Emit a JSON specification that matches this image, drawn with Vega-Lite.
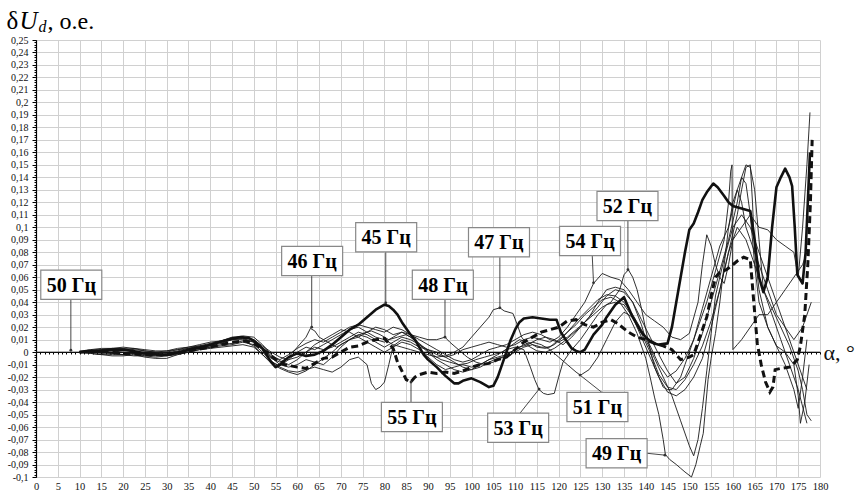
{
  "$schema": "https://vega.github.io/schema/vega-lite/v6.json",
  "width": 784,
  "height": 437,
  "autosize": {"type": "none"},
  "padding": {"left": 36, "top": 40, "right": 39, "bottom": 18},
  "background": "white",
  "config": {
    "view": {"stroke": null},
    "font": "Liberation Serif",
    "axis": {"labelFont": "Liberation Serif", "titleFont": "Liberation Serif"},
    "text": {"font": "Liberation Serif"}
  },
  "resolve": {"axis": {"x": "independent", "y": "independent"}},
  "datasets": {
    "curves": [
      {"s":45,"a":10,"u":0},{"s":45,"a":12,"u":0.001},{"s":45,"a":15,"u":0.001},{"s":45,"a":18,"u":0.002},{"s":45,"a":20,"u":0.002},{"s":45,"a":22,"u":0.001},{"s":45,"a":25,"u":-0.001},{"s":45,"a":28,"u":-0.002},{"s":45,"a":30,"u":-0.002},{"s":45,"a":33,"u":0},{"s":45,"a":35,"u":0.002},{"s":45,"a":38,"u":0.004},{"s":45,"a":40,"u":0.006},{"s":45,"a":43,"u":0.009},{"s":45,"a":45,"u":0.011},{"s":45,"a":47,"u":0.012},{"s":45,"a":49,"u":0.011},{"s":45,"a":50,"u":0.009},{"s":45,"a":52,"u":0.003},{"s":45,"a":54,"u":-0.008},{"s":45,"a":55,"u":-0.012},{"s":45,"a":56,"u":-0.01},{"s":45,"a":58,"u":-0.004},{"s":45,"a":60,"u":-0.001},{"s":45,"a":62,"u":-0.003},{"s":45,"a":64,"u":-0.002},{"s":45,"a":66,"u":0.001},{"s":45,"a":68,"u":0.006},{"s":45,"a":70,"u":0.012},{"s":45,"a":72,"u":0.018},{"s":45,"a":74,"u":0.022},{"s":45,"a":76,"u":0.028},{"s":45,"a":78,"u":0.034},{"s":45,"a":80,"u":0.038},{"s":45,"a":81,"u":0.037},{"s":45,"a":82,"u":0.034},{"s":45,"a":83,"u":0.03},{"s":45,"a":84,"u":0.024},{"s":45,"a":85,"u":0.019},{"s":45,"a":86,"u":0.014},{"s":45,"a":87,"u":0.01},{"s":45,"a":88,"u":0.004},{"s":45,"a":89,"u":-0.002},{"s":45,"a":90,"u":-0.006},{"s":45,"a":92,"u":-0.012},{"s":45,"a":94,"u":-0.019},{"s":45,"a":96,"u":-0.025},{"s":45,"a":97,"u":-0.025},{"s":45,"a":98,"u":-0.023},{"s":45,"a":100,"u":-0.021},{"s":45,"a":102,"u":-0.024},{"s":45,"a":104,"u":-0.028},{"s":45,"a":105,"u":-0.027},{"s":45,"a":106,"u":-0.02},{"s":45,"a":107,"u":-0.01},{"s":45,"a":108,"u":0},{"s":45,"a":109,"u":0.01},{"s":45,"a":110,"u":0.018},{"s":45,"a":111,"u":0.024},{"s":45,"a":112,"u":0.027},{"s":45,"a":114,"u":0.028},{"s":45,"a":116,"u":0.027},{"s":45,"a":118,"u":0.026},{"s":45,"a":119.5,"u":0.026},{"s":45,"a":120.5,"u":0.016},{"s":45,"a":122,"u":0.008},{"s":45,"a":123,"u":0.003},{"s":45,"a":124,"u":0.001},{"s":45,"a":125,"u":0},{"s":45,"a":126,"u":0.002},{"s":45,"a":127,"u":0.008},{"s":45,"a":128,"u":0.014},{"s":45,"a":129,"u":0.018},{"s":45,"a":130,"u":0.022},{"s":45,"a":131,"u":0.028},{"s":45,"a":132,"u":0.033},{"s":45,"a":133,"u":0.038},{"s":45,"a":135,"u":0.044},{"s":45,"a":136,"u":0.036},{"s":45,"a":137,"u":0.028},{"s":45,"a":138,"u":0.022},{"s":45,"a":139,"u":0.016},{"s":45,"a":140,"u":0.012},{"s":45,"a":141,"u":0.009},{"s":45,"a":142,"u":0.007},{"s":45,"a":143,"u":0.006},{"s":45,"a":145,"u":0.007},{"s":45,"a":146,"u":0.02},{"s":45,"a":147,"u":0.04},{"s":45,"a":148,"u":0.06},{"s":45,"a":149,"u":0.08},{"s":45,"a":150,"u":0.098},{"s":45,"a":151,"u":0.103},{"s":45,"a":152,"u":0.112},{"s":45,"a":153,"u":0.122},{"s":45,"a":154,"u":0.128},{"s":45,"a":155.5,"u":0.135},{"s":45,"a":156.5,"u":0.132},{"s":45,"a":158,"u":0.125},{"s":45,"a":159,"u":0.12},{"s":45,"a":160,"u":0.117},{"s":45,"a":162,"u":0.115},{"s":45,"a":164,"u":0.113},{"s":45,"a":165,"u":0.09},{"s":45,"a":166,"u":0.06},{"s":45,"a":167,"u":0.048},{"s":45,"a":168,"u":0.06},{"s":45,"a":169,"u":0.1},{"s":45,"a":170,"u":0.132},{"s":45,"a":171,"u":0.14},{"s":45,"a":172,"u":0.147},{"s":45,"a":173,"u":0.14},{"s":45,"a":173.6,"u":0.133},{"s":45,"a":174.2,"u":0.1},{"s":45,"a":174.8,"u":0.062},{"s":45,"a":176,"u":0.055},{"s":45,"a":176.7,"u":0.08},{"s":45,"a":177.2,"u":0.12},{"s":45,"a":177.7,"u":0.16},

      {"s":55,"a":10,"u":0},{"s":55,"a":15,"u":0.001},{"s":55,"a":20,"u":-0.001},{"s":55,"a":25,"u":-0.002},{"s":55,"a":30,"u":-0.002},{"s":55,"a":35,"u":0.001},{"s":55,"a":40,"u":0.004},{"s":55,"a":45,"u":0.008},{"s":55,"a":48,"u":0.009},{"s":55,"a":50,"u":0.007},{"s":55,"a":53,"u":0},{"s":55,"a":55,"u":-0.006},{"s":55,"a":57,"u":-0.01},{"s":55,"a":60,"u":-0.012},{"s":55,"a":62,"u":-0.013},{"s":55,"a":64,"u":-0.009},{"s":55,"a":66,"u":-0.005},{"s":55,"a":68,"u":-0.004},{"s":55,"a":70,"u":0},{"s":55,"a":72,"u":0.004},{"s":55,"a":74,"u":0.005},{"s":55,"a":76,"u":0.008},{"s":55,"a":78,"u":0.01},{"s":55,"a":80,"u":0.011},{"s":55,"a":82,"u":0.003},{"s":55,"a":83,"u":-0.008},{"s":55,"a":84,"u":-0.015},{"s":55,"a":85,"u":-0.022},{"s":55,"a":86,"u":-0.024},{"s":55,"a":87,"u":-0.02},{"s":55,"a":88,"u":-0.018},{"s":55,"a":90,"u":-0.016},{"s":55,"a":92,"u":-0.017},{"s":55,"a":94,"u":-0.016},{"s":55,"a":96,"u":-0.017},{"s":55,"a":98,"u":-0.015},{"s":55,"a":100,"u":-0.012},{"s":55,"a":102,"u":-0.01},{"s":55,"a":104,"u":-0.009},{"s":55,"a":106,"u":-0.006},{"s":55,"a":108,"u":-0.004},{"s":55,"a":110,"u":0.002},{"s":55,"a":112,"u":0.008},{"s":55,"a":114,"u":0.012},{"s":55,"a":116,"u":0.016},{"s":55,"a":118,"u":0.018},{"s":55,"a":120,"u":0.02},{"s":55,"a":122,"u":0.025},{"s":55,"a":124,"u":0.026},{"s":55,"a":126,"u":0.022},{"s":55,"a":128,"u":0.02},{"s":55,"a":130,"u":0.024},{"s":55,"a":132,"u":0.026},{"s":55,"a":133.5,"u":0.023},{"s":55,"a":136,"u":0.016},{"s":55,"a":138,"u":0.012},{"s":55,"a":140,"u":0.01},{"s":55,"a":142,"u":0.007},{"s":55,"a":144,"u":0.005},{"s":55,"a":146,"u":0.002},{"s":55,"a":148,"u":-0.006},{"s":55,"a":150,"u":-0.004},{"s":55,"a":151,"u":-0.002},{"s":55,"a":152,"u":0.008},{"s":55,"a":153,"u":0.018},{"s":55,"a":154,"u":0.028},{"s":55,"a":155,"u":0.045},{"s":55,"a":156,"u":0.06},{"s":55,"a":157,"u":0.064},{"s":55,"a":158.5,"u":0.066},{"s":55,"a":160,"u":0.07},{"s":55,"a":161,"u":0.073},{"s":55,"a":162.5,"u":0.076},{"s":55,"a":164,"u":0.074},{"s":55,"a":164.8,"u":0.04},{"s":55,"a":165.6,"u":0.007},{"s":55,"a":166.5,"u":-0.01},{"s":55,"a":167.5,"u":-0.024},{"s":55,"a":168.5,"u":-0.032},{"s":55,"a":169.2,"u":-0.028},{"s":55,"a":169.7,"u":-0.014},{"s":55,"a":171,"u":-0.013},{"s":55,"a":173,"u":-0.012},{"s":55,"a":174,"u":-0.009},{"s":55,"a":174.8,"u":-0.006},{"s":55,"a":175.5,"u":0.005},{"s":55,"a":176.5,"u":0.03},{"s":55,"a":177.2,"u":0.07},{"s":55,"a":177.8,"u":0.12},{"s":55,"a":178.2,"u":0.17},

      {"s":46,"a":10,"u":0},{"s":46,"a":12.5,"u":0.001},{"s":46,"a":15,"u":0.002},{"s":46,"a":17.5,"u":0.003},{"s":46,"a":20,"u":0.002},{"s":46,"a":22.5,"u":0.003},{"s":46,"a":25,"u":0.001},{"s":46,"a":27.5,"u":0},{"s":46,"a":30,"u":-0.001},{"s":46,"a":32.5,"u":0.001},{"s":46,"a":35,"u":0.003},{"s":46,"a":37.5,"u":0.004},{"s":46,"a":40,"u":0.006},{"s":46,"a":42.5,"u":0.008},{"s":46,"a":45,"u":0.01},{"s":46,"a":47.5,"u":0.011},{"s":46,"a":50,"u":0.008},{"s":46,"a":52,"u":0.002},{"s":46,"a":54,"u":-0.005},{"s":46,"a":56,"u":-0.008},{"s":46,"a":58,"u":-0.004},{"s":46,"a":60,"u":0.004},{"s":46,"a":62,"u":0.012},{"s":46,"a":63,"u":0.019},{"s":46,"a":64,"u":0.017},{"s":46,"a":65,"u":0.012},{"s":46,"a":67,"u":0.008},{"s":46,"a":69,"u":0.004},{"s":46,"a":71,"u":0.008},{"s":46,"a":73,"u":0.012},{"s":46,"a":75,"u":0.015},{"s":46,"a":77,"u":0.017},{"s":46,"a":79,"u":0.014},{"s":46,"a":81,"u":0.01},{"s":46,"a":83,"u":0.012},{"s":46,"a":85,"u":0.014},{"s":46,"a":87,"u":0.01},{"s":46,"a":89,"u":0.004},{"s":46,"a":91,"u":-0.002},{"s":46,"a":93,"u":-0.006},{"s":46,"a":95,"u":-0.008},{"s":46,"a":97,"u":-0.01},{"s":46,"a":99,"u":-0.009},{"s":46,"a":101,"u":-0.006},{"s":46,"a":103,"u":-0.004},{"s":46,"a":105,"u":-0.002},{"s":46,"a":107,"u":0},{"s":46,"a":109,"u":0.005},{"s":46,"a":111,"u":0.01},{"s":46,"a":113,"u":0.008},{"s":46,"a":115,"u":0.004},{"s":46,"a":117,"u":0.003},{"s":46,"a":119,"u":0.006},{"s":46,"a":121,"u":0.012},{"s":46,"a":123,"u":0.02},{"s":46,"a":125,"u":0.028},{"s":46,"a":127,"u":0.035},{"s":46,"a":129,"u":0.042},{"s":46,"a":131,"u":0.046},{"s":46,"a":133,"u":0.045},{"s":46,"a":135,"u":0.04},{"s":46,"a":137,"u":0.03},{"s":46,"a":139,"u":0.018},{"s":46,"a":141,"u":0.005},{"s":46,"a":143,"u":-0.01},{"s":46,"a":145,"u":-0.02},{"s":46,"a":147,"u":-0.015},{"s":46,"a":149,"u":-0.005},{"s":46,"a":151,"u":0.01},{"s":46,"a":153,"u":0.035},{"s":46,"a":155,"u":0.06},{"s":46,"a":157,"u":0.085},{"s":46,"a":159,"u":0.1},{"s":46,"a":160,"u":0.115},{"s":46,"a":161,"u":0.13},{"s":46,"a":162,"u":0.14},{"s":46,"a":163,"u":0.135},{"s":46,"a":164,"u":0.11},{"s":46,"a":165,"u":0.07},{"s":46,"a":166,"u":0.04},{"s":46,"a":168,"u":0.02},{"s":46,"a":170,"u":0.005},{"s":46,"a":172,"u":-0.01},{"s":46,"a":174,"u":-0.03},{"s":46,"a":175,"u":-0.045},{"s":46,"a":176,"u":-0.02},{"s":46,"a":177,"u":0.01},

      {"s":47,"a":10,"u":0},{"s":47,"a":12.5,"u":-0.001},{"s":47,"a":15,"u":-0.002},{"s":47,"a":17.5,"u":-0.003},{"s":47,"a":20,"u":-0.003},{"s":47,"a":22.5,"u":-0.002},{"s":47,"a":25,"u":-0.004},{"s":47,"a":27.5,"u":-0.005},{"s":47,"a":30,"u":-0.005},{"s":47,"a":32.5,"u":-0.002},{"s":47,"a":35,"u":0},{"s":47,"a":37.5,"u":0.002},{"s":47,"a":40,"u":0.004},{"s":47,"a":42.5,"u":0.006},{"s":47,"a":45,"u":0.007},{"s":47,"a":47.5,"u":0.009},{"s":47,"a":50,"u":0.005},{"s":47,"a":52,"u":-0.002},{"s":47,"a":54,"u":-0.008},{"s":47,"a":56,"u":-0.011},{"s":47,"a":58,"u":-0.006},{"s":47,"a":60,"u":0},{"s":47,"a":62,"u":0.004},{"s":47,"a":64,"u":0.002},{"s":47,"a":66,"u":0.006},{"s":47,"a":68,"u":0.01},{"s":47,"a":70,"u":0.014},{"s":47,"a":72,"u":0.018},{"s":47,"a":74,"u":0.02},{"s":47,"a":76,"u":0.016},{"s":47,"a":78,"u":0.012},{"s":47,"a":80,"u":0.01},{"s":47,"a":82,"u":0.006},{"s":47,"a":84,"u":0.004},{"s":47,"a":86,"u":0.002},{"s":47,"a":88,"u":0},{"s":47,"a":90,"u":-0.002},{"s":47,"a":92,"u":-0.004},{"s":47,"a":94,"u":-0.003},{"s":47,"a":96,"u":0},{"s":47,"a":98,"u":0.004},{"s":47,"a":100,"u":0.012},{"s":47,"a":102,"u":0.02},{"s":47,"a":104,"u":0.028},{"s":47,"a":105,"u":0.034},{"s":47,"a":106.5,"u":0.0355},{"s":47,"a":107.5,"u":0.033},{"s":47,"a":109.5,"u":0.031},{"s":47,"a":110.5,"u":0.022},{"s":47,"a":111.5,"u":0.012},{"s":47,"a":113,"u":0.005},{"s":47,"a":115,"u":0.001},{"s":47,"a":117,"u":0},{"s":47,"a":119,"u":0.003},{"s":47,"a":121,"u":0.008},{"s":47,"a":123,"u":0.014},{"s":47,"a":125,"u":0.02},{"s":47,"a":127,"u":0.028},{"s":47,"a":129,"u":0.036},{"s":47,"a":131,"u":0.045},{"s":47,"a":133,"u":0.05},{"s":47,"a":135,"u":0.048},{"s":47,"a":137,"u":0.04},{"s":47,"a":139,"u":0.022},{"s":47,"a":140,"u":0.01},{"s":47,"a":142,"u":-0.005},{"s":47,"a":144,"u":-0.02},{"s":47,"a":146,"u":-0.035},{"s":47,"a":148,"u":-0.055},{"s":47,"a":150,"u":-0.075},{"s":47,"a":151,"u":-0.083},{"s":47,"a":152,"u":-0.07},{"s":47,"a":153,"u":-0.045},{"s":47,"a":154,"u":-0.015},{"s":47,"a":155,"u":0.015},{"s":47,"a":156,"u":0.045},{"s":47,"a":158,"u":0.075},{"s":47,"a":160,"u":0.1},{"s":47,"a":162,"u":0.11},{"s":47,"a":164,"u":0.1},{"s":47,"a":166,"u":0.08},{"s":47,"a":168,"u":0.06},{"s":47,"a":170,"u":0.04},{"s":47,"a":172,"u":0.02},{"s":47,"a":174,"u":0},{"s":47,"a":176,"u":-0.02},{"s":47,"a":177,"u":-0.03},

      {"s":48,"a":10,"u":0},{"s":48,"a":12.5,"u":0.002},{"s":48,"a":15,"u":0.003},{"s":48,"a":17.5,"u":0.003},{"s":48,"a":20,"u":0.004},{"s":48,"a":22.5,"u":0.003},{"s":48,"a":25,"u":0.002},{"s":48,"a":27.5,"u":0.001},{"s":48,"a":30,"u":0.001},{"s":48,"a":32.5,"u":0.003},{"s":48,"a":35,"u":0.004},{"s":48,"a":37.5,"u":0.005},{"s":48,"a":40,"u":0.007},{"s":48,"a":42.5,"u":0.009},{"s":48,"a":45,"u":0.012},{"s":48,"a":47.5,"u":0.012},{"s":48,"a":50,"u":0.01},{"s":48,"a":52,"u":0.004},{"s":48,"a":54,"u":-0.003},{"s":48,"a":56,"u":-0.006},{"s":48,"a":58,"u":-0.002},{"s":48,"a":60,"u":0.003},{"s":48,"a":62,"u":0.007},{"s":48,"a":64,"u":0.01},{"s":48,"a":66,"u":0.008},{"s":48,"a":68,"u":0.012},{"s":48,"a":70,"u":0.016},{"s":48,"a":72,"u":0.02},{"s":48,"a":74,"u":0.022},{"s":48,"a":76,"u":0.02},{"s":48,"a":78,"u":0.018},{"s":48,"a":80,"u":0.016},{"s":48,"a":82,"u":0.02},{"s":48,"a":84,"u":0.018},{"s":48,"a":86,"u":0.014},{"s":48,"a":88,"u":0.012},{"s":48,"a":90,"u":0.01},{"s":48,"a":92,"u":0.01},{"s":48,"a":93.9,"u":0.012},{"s":48,"a":95,"u":0.008},{"s":48,"a":97,"u":0.002},{"s":48,"a":99,"u":-0.004},{"s":48,"a":101,"u":-0.008},{"s":48,"a":103,"u":-0.01},{"s":48,"a":105,"u":-0.008},{"s":48,"a":107,"u":-0.004},{"s":48,"a":109,"u":0},{"s":48,"a":111,"u":0.004},{"s":48,"a":113,"u":0.006},{"s":48,"a":115,"u":0.01},{"s":48,"a":117,"u":0.012},{"s":48,"a":119,"u":0.01},{"s":48,"a":121,"u":0.006},{"s":48,"a":123,"u":0.012},{"s":48,"a":125,"u":0.02},{"s":48,"a":127,"u":0.028},{"s":48,"a":129,"u":0.04},{"s":48,"a":131,"u":0.05},{"s":48,"a":133,"u":0.052},{"s":48,"a":135,"u":0.05},{"s":48,"a":137,"u":0.04},{"s":48,"a":139,"u":0.026},{"s":48,"a":141,"u":0.012},{"s":48,"a":143,"u":-0.002},{"s":48,"a":145,"u":-0.015},{"s":48,"a":147,"u":-0.025},{"s":48,"a":149,"u":-0.02},{"s":48,"a":151,"u":-0.005},{"s":48,"a":153,"u":0.015},{"s":48,"a":155,"u":0.04},{"s":48,"a":157,"u":0.065},{"s":48,"a":159,"u":0.09},{"s":48,"a":161,"u":0.12},{"s":48,"a":162,"u":0.14},{"s":48,"a":163,"u":0.15},{"s":48,"a":164,"u":0.148},{"s":48,"a":165,"u":0.13},{"s":48,"a":166,"u":0.09},{"s":48,"a":167,"u":0.05},{"s":48,"a":169,"u":0.03},{"s":48,"a":171,"u":0.01},{"s":48,"a":173,"u":-0.01},{"s":48,"a":175,"u":-0.03},{"s":48,"a":177,"u":-0.057},

      {"s":49,"a":10,"u":0},{"s":49,"a":12.5,"u":0},{"s":49,"a":15,"u":-0.001},{"s":49,"a":17.5,"u":-0.002},{"s":49,"a":20,"u":-0.002},{"s":49,"a":22.5,"u":-0.001},{"s":49,"a":25,"u":-0.003},{"s":49,"a":27.5,"u":-0.004},{"s":49,"a":30,"u":-0.003},{"s":49,"a":32.5,"u":-0.001},{"s":49,"a":35,"u":0.001},{"s":49,"a":37.5,"u":0.003},{"s":49,"a":40,"u":0.004},{"s":49,"a":42.5,"u":0.005},{"s":49,"a":45,"u":0.006},{"s":49,"a":47.5,"u":0.008},{"s":49,"a":50,"u":0.006},{"s":49,"a":52,"u":0},{"s":49,"a":54,"u":-0.007},{"s":49,"a":56,"u":-0.012},{"s":49,"a":58,"u":-0.015},{"s":49,"a":60,"u":-0.016},{"s":49,"a":62,"u":-0.014},{"s":49,"a":64,"u":-0.012},{"s":49,"a":66,"u":-0.014},{"s":49,"a":68,"u":-0.016},{"s":49,"a":70,"u":-0.012},{"s":49,"a":72,"u":-0.006},{"s":49,"a":74,"u":-0.004},{"s":49,"a":76,"u":-0.01},{"s":49,"a":77,"u":-0.025},{"s":49,"a":78,"u":-0.03},{"s":49,"a":79,"u":-0.028},{"s":49,"a":80,"u":-0.024},{"s":49,"a":81,"u":-0.01},{"s":49,"a":82,"u":0.005},{"s":49,"a":84,"u":0.01},{"s":49,"a":86,"u":0.008},{"s":49,"a":88,"u":0.004},{"s":49,"a":90,"u":0.002},{"s":49,"a":92,"u":0},{"s":49,"a":94,"u":-0.004},{"s":49,"a":96,"u":-0.008},{"s":49,"a":98,"u":-0.012},{"s":49,"a":100,"u":-0.014},{"s":49,"a":102,"u":-0.012},{"s":49,"a":104,"u":-0.008},{"s":49,"a":106,"u":-0.005},{"s":49,"a":108,"u":-0.004},{"s":49,"a":110,"u":0},{"s":49,"a":112,"u":0.004},{"s":49,"a":114,"u":0.006},{"s":49,"a":116,"u":0.004},{"s":49,"a":118,"u":0.004},{"s":49,"a":120,"u":0.01},{"s":49,"a":122,"u":0.016},{"s":49,"a":124,"u":0.022},{"s":49,"a":126,"u":0.03},{"s":49,"a":128,"u":0.036},{"s":49,"a":130,"u":0.042},{"s":49,"a":132,"u":0.044},{"s":49,"a":134,"u":0.04},{"s":49,"a":136,"u":0.03},{"s":49,"a":138,"u":0.015},{"s":49,"a":140,"u":-0.005},{"s":49,"a":141,"u":-0.02},{"s":49,"a":142,"u":-0.036},{"s":49,"a":143,"u":-0.05},{"s":49,"a":144,"u":-0.07},{"s":49,"a":144.5,"u":-0.082},{"s":49,"a":145.5,"u":-0.086},{"s":49,"a":147,"u":-0.09},{"s":49,"a":148,"u":-0.093},{"s":49,"a":149,"u":-0.096},{"s":49,"a":150.5,"u":-0.1},{"s":49,"a":151.5,"u":-0.09},{"s":49,"a":152.5,"u":-0.075},{"s":49,"a":153.2,"u":-0.065},{"s":49,"a":154.3,"u":-0.022},{"s":49,"a":155,"u":-0.005},{"s":49,"a":156,"u":0.015},{"s":49,"a":157,"u":0.04},{"s":49,"a":158,"u":0.07},{"s":49,"a":159,"u":0.1},{"s":49,"a":160,"u":0.12},{"s":49,"a":161,"u":0.13},{"s":49,"a":162,"u":0.12},{"s":49,"a":163,"u":0.1},{"s":49,"a":164,"u":0.09},{"s":49,"a":166,"u":0.07},{"s":49,"a":168,"u":0.05},{"s":49,"a":170,"u":0.03},{"s":49,"a":172,"u":0.02},{"s":49,"a":174,"u":0.01},{"s":49,"a":176,"u":0.02},{"s":49,"a":178,"u":0.04},

      {"s":50,"a":0,"u":0},{"s":50,"a":180,"u":0},

      {"s":51,"a":10,"u":0},{"s":51,"a":12.5,"u":0.001},{"s":51,"a":15,"u":0},{"s":51,"a":17.5,"u":-0.001},{"s":51,"a":20,"u":-0.002},{"s":51,"a":22.5,"u":-0.001},{"s":51,"a":25,"u":-0.002},{"s":51,"a":27.5,"u":-0.003},{"s":51,"a":30,"u":-0.002},{"s":51,"a":32.5,"u":0},{"s":51,"a":35,"u":0.002},{"s":51,"a":37.5,"u":0.003},{"s":51,"a":40,"u":0.005},{"s":51,"a":42.5,"u":0.007},{"s":51,"a":45,"u":0.01},{"s":51,"a":47.5,"u":0.01},{"s":51,"a":50,"u":0.008},{"s":51,"a":52,"u":0.003},{"s":51,"a":54,"u":-0.004},{"s":51,"a":56,"u":-0.01},{"s":51,"a":58,"u":-0.012},{"s":51,"a":60,"u":-0.01},{"s":51,"a":62,"u":-0.006},{"s":51,"a":64,"u":-0.008},{"s":51,"a":66,"u":-0.01},{"s":51,"a":68,"u":-0.004},{"s":51,"a":70,"u":0.004},{"s":51,"a":72,"u":0.01},{"s":51,"a":74,"u":0.014},{"s":51,"a":76,"u":0.012},{"s":51,"a":78,"u":0.008},{"s":51,"a":80,"u":0.004},{"s":51,"a":82,"u":0.008},{"s":51,"a":84,"u":0.012},{"s":51,"a":86,"u":0.01},{"s":51,"a":88,"u":0.006},{"s":51,"a":90,"u":0},{"s":51,"a":92,"u":-0.006},{"s":51,"a":94,"u":-0.01},{"s":51,"a":96,"u":-0.014},{"s":51,"a":98,"u":-0.016},{"s":51,"a":100,"u":-0.014},{"s":51,"a":102,"u":-0.01},{"s":51,"a":104,"u":-0.006},{"s":51,"a":106,"u":-0.004},{"s":51,"a":108,"u":-0.002},{"s":51,"a":110,"u":0.002},{"s":51,"a":112,"u":0.006},{"s":51,"a":114,"u":0.008},{"s":51,"a":116,"u":0.006},{"s":51,"a":118,"u":0.002},{"s":51,"a":120,"u":-0.004},{"s":51,"a":122,"u":-0.01},{"s":51,"a":124,"u":-0.016},{"s":51,"a":125,"u":-0.0185},{"s":51,"a":127,"u":-0.014},{"s":51,"a":129,"u":-0.004},{"s":51,"a":131,"u":0.01},{"s":51,"a":133,"u":0.024},{"s":51,"a":135,"u":0.032},{"s":51,"a":137,"u":0.028},{"s":51,"a":139,"u":0.015},{"s":51,"a":141,"u":0},{"s":51,"a":143,"u":-0.018},{"s":51,"a":145,"u":-0.028},{"s":51,"a":147,"u":-0.03},{"s":51,"a":149,"u":-0.022},{"s":51,"a":151,"u":-0.01},{"s":51,"a":153,"u":0.005},{"s":51,"a":155,"u":0.025},{"s":51,"a":157,"u":0.05},{"s":51,"a":159,"u":0.08},{"s":51,"a":161,"u":0.1},{"s":51,"a":163,"u":0.09},{"s":51,"a":165,"u":0.07},{"s":51,"a":167,"u":0.05},{"s":51,"a":169,"u":0.035},{"s":51,"a":171,"u":0.02},{"s":51,"a":173,"u":0.005},{"s":51,"a":175,"u":-0.015},{"s":51,"a":176,"u":-0.03},{"s":51,"a":177,"u":-0.05},{"s":51,"a":178,"u":-0.055},

      {"s":52,"a":10,"u":0},{"s":52,"a":12.5,"u":0},{"s":52,"a":15,"u":0.001},{"s":52,"a":17.5,"u":0.001},{"s":52,"a":20,"u":0},{"s":52,"a":22.5,"u":-0.001},{"s":52,"a":25,"u":0},{"s":52,"a":27.5,"u":-0.001},{"s":52,"a":30,"u":0},{"s":52,"a":32.5,"u":0.002},{"s":52,"a":35,"u":0.003},{"s":52,"a":37.5,"u":0.005},{"s":52,"a":40,"u":0.006},{"s":52,"a":42.5,"u":0.008},{"s":52,"a":45,"u":0.01},{"s":52,"a":47.5,"u":0.012},{"s":52,"a":50,"u":0.01},{"s":52,"a":52,"u":0.005},{"s":52,"a":54,"u":0},{"s":52,"a":56,"u":-0.004},{"s":52,"a":58,"u":-0.006},{"s":52,"a":60,"u":-0.004},{"s":52,"a":62,"u":0},{"s":52,"a":64,"u":0.004},{"s":52,"a":66,"u":0.002},{"s":52,"a":68,"u":0.004},{"s":52,"a":70,"u":0.008},{"s":52,"a":72,"u":0.012},{"s":52,"a":74,"u":0.016},{"s":52,"a":76,"u":0.014},{"s":52,"a":78,"u":0.01},{"s":52,"a":80,"u":0.008},{"s":52,"a":82,"u":0.012},{"s":52,"a":84,"u":0.016},{"s":52,"a":86,"u":0.014},{"s":52,"a":88,"u":0.01},{"s":52,"a":90,"u":0.006},{"s":52,"a":92,"u":0.002},{"s":52,"a":94,"u":-0.002},{"s":52,"a":96,"u":-0.006},{"s":52,"a":98,"u":-0.008},{"s":52,"a":100,"u":-0.006},{"s":52,"a":102,"u":-0.002},{"s":52,"a":104,"u":0.002},{"s":52,"a":106,"u":0.004},{"s":52,"a":108,"u":0.006},{"s":52,"a":110,"u":0.01},{"s":52,"a":112,"u":0.014},{"s":52,"a":114,"u":0.016},{"s":52,"a":116,"u":0.014},{"s":52,"a":118,"u":0.01},{"s":52,"a":120,"u":0.008},{"s":52,"a":122,"u":0.012},{"s":52,"a":124,"u":0.018},{"s":52,"a":126,"u":0.024},{"s":52,"a":128,"u":0.03},{"s":52,"a":130,"u":0.036},{"s":52,"a":132,"u":0.04},{"s":52,"a":134,"u":0.05},{"s":52,"a":135,"u":0.062},{"s":52,"a":136,"u":0.066},{"s":52,"a":137,"u":0.06},{"s":52,"a":138,"u":0.05},{"s":52,"a":139,"u":0.035},{"s":52,"a":140,"u":0.018},{"s":52,"a":141,"u":0.002},{"s":52,"a":142,"u":-0.012},{"s":52,"a":143,"u":-0.02},{"s":52,"a":144,"u":-0.028},{"s":52,"a":145,"u":-0.03},{"s":52,"a":146,"u":-0.03},{"s":52,"a":147,"u":-0.025},{"s":52,"a":148,"u":-0.02},{"s":52,"a":149,"u":-0.01},{"s":52,"a":150,"u":0},{"s":52,"a":152,"u":0.02},{"s":52,"a":154,"u":0.04},{"s":52,"a":156,"u":0.065},{"s":52,"a":158,"u":0.09},{"s":52,"a":159,"u":0.12},{"s":52,"a":159.5,"u":0.145},{"s":52,"a":159.8,"u":0.15},{"s":52,"a":160,"u":0.002},{"s":52,"a":161,"u":0.006},{"s":52,"a":162,"u":0.01},{"s":52,"a":164,"u":0.02},{"s":52,"a":166,"u":0.03},{"s":52,"a":168,"u":0.03},{"s":52,"a":170,"u":0.04},{"s":52,"a":172,"u":0.05},{"s":52,"a":174,"u":0.06},{"s":52,"a":176,"u":0.07},{"s":52,"a":177,"u":0.08},

      {"s":53,"a":10,"u":0},{"s":53,"a":12.5,"u":-0.001},{"s":53,"a":15,"u":-0.002},{"s":53,"a":17.5,"u":-0.001},{"s":53,"a":20,"u":-0.002},{"s":53,"a":22.5,"u":-0.003},{"s":53,"a":25,"u":-0.003},{"s":53,"a":27.5,"u":-0.002},{"s":53,"a":30,"u":-0.003},{"s":53,"a":32.5,"u":-0.002},{"s":53,"a":35,"u":0},{"s":53,"a":37.5,"u":0.002},{"s":53,"a":40,"u":0.003},{"s":53,"a":42.5,"u":0.004},{"s":53,"a":45,"u":0.005},{"s":53,"a":47.5,"u":0.006},{"s":53,"a":50,"u":0.004},{"s":53,"a":52,"u":-0.002},{"s":53,"a":54,"u":-0.009},{"s":53,"a":56,"u":-0.013},{"s":53,"a":58,"u":-0.016},{"s":53,"a":60,"u":-0.018},{"s":53,"a":62,"u":-0.015},{"s":53,"a":64,"u":-0.01},{"s":53,"a":66,"u":-0.005},{"s":53,"a":68,"u":0},{"s":53,"a":70,"u":0.006},{"s":53,"a":72,"u":0.01},{"s":53,"a":74,"u":0.012},{"s":53,"a":76,"u":0.008},{"s":53,"a":78,"u":0.004},{"s":53,"a":80,"u":0},{"s":53,"a":82,"u":0.004},{"s":53,"a":84,"u":0.008},{"s":53,"a":86,"u":0.006},{"s":53,"a":88,"u":0.002},{"s":53,"a":90,"u":-0.004},{"s":53,"a":92,"u":-0.01},{"s":53,"a":94,"u":-0.014},{"s":53,"a":96,"u":-0.012},{"s":53,"a":98,"u":-0.01},{"s":53,"a":100,"u":-0.012},{"s":53,"a":102,"u":-0.01},{"s":53,"a":104,"u":-0.006},{"s":53,"a":106,"u":-0.002},{"s":53,"a":108,"u":0.002},{"s":53,"a":110,"u":0.004},{"s":53,"a":112,"u":0.002},{"s":53,"a":113.5,"u":-0.012},{"s":53,"a":114.5,"u":-0.022},{"s":53,"a":115.5,"u":-0.03},{"s":53,"a":116.5,"u":-0.033},{"s":53,"a":117.5,"u":-0.034},{"s":53,"a":119,"u":-0.033},{"s":53,"a":120,"u":-0.02},{"s":53,"a":121,"u":-0.008},{"s":53,"a":123,"u":0.002},{"s":53,"a":125,"u":0.01},{"s":53,"a":127,"u":0.02},{"s":53,"a":129,"u":0.03},{"s":53,"a":131,"u":0.038},{"s":53,"a":133,"u":0.04},{"s":53,"a":135,"u":0.038},{"s":53,"a":137,"u":0.028},{"s":53,"a":139,"u":0.012},{"s":53,"a":141,"u":-0.004},{"s":53,"a":143,"u":-0.02},{"s":53,"a":145,"u":-0.032},{"s":53,"a":147,"u":-0.035},{"s":53,"a":149,"u":-0.03},{"s":53,"a":151,"u":-0.02},{"s":53,"a":153,"u":-0.005},{"s":53,"a":155,"u":0.02},{"s":53,"a":157,"u":0.05},{"s":53,"a":159,"u":0.08},{"s":53,"a":161,"u":0.11},{"s":53,"a":162,"u":0.13},{"s":53,"a":163,"u":0.148},{"s":53,"a":164,"u":0.15},{"s":53,"a":164.5,"u":0.12},{"s":53,"a":165,"u":0.08},{"s":53,"a":166,"u":0.05},{"s":53,"a":168,"u":0.02},{"s":53,"a":170,"u":0.005},{"s":53,"a":172,"u":0},{"s":53,"a":174,"u":-0.01},{"s":53,"a":175,"u":-0.035},{"s":53,"a":175.5,"u":-0.057},{"s":53,"a":176.5,"u":-0.04},{"s":53,"a":177.5,"u":-0.01},

      {"s":54,"a":10,"u":0},{"s":54,"a":12.5,"u":0.001},{"s":54,"a":15,"u":0.002},{"s":54,"a":17.5,"u":0.003},{"s":54,"a":20,"u":0.003},{"s":54,"a":22.5,"u":0.002},{"s":54,"a":25,"u":0.001},{"s":54,"a":27.5,"u":0},{"s":54,"a":30,"u":0.001},{"s":54,"a":32.5,"u":0.002},{"s":54,"a":35,"u":0.004},{"s":54,"a":37.5,"u":0.006},{"s":54,"a":40,"u":0.008},{"s":54,"a":42.5,"u":0.009},{"s":54,"a":45,"u":0.011},{"s":54,"a":47.5,"u":0.013},{"s":54,"a":50,"u":0.012},{"s":54,"a":52,"u":0.006},{"s":54,"a":54,"u":-0.002},{"s":54,"a":56,"u":-0.007},{"s":54,"a":58,"u":-0.01},{"s":54,"a":60,"u":-0.006},{"s":54,"a":62,"u":0},{"s":54,"a":64,"u":0.006},{"s":54,"a":66,"u":0.01},{"s":54,"a":68,"u":0.014},{"s":54,"a":70,"u":0.018},{"s":54,"a":72,"u":0.016},{"s":54,"a":74,"u":0.012},{"s":54,"a":76,"u":0.016},{"s":54,"a":78,"u":0.02},{"s":54,"a":80,"u":0.018},{"s":54,"a":82,"u":0.014},{"s":54,"a":84,"u":0.016},{"s":54,"a":86,"u":0.012},{"s":54,"a":88,"u":0.006},{"s":54,"a":90,"u":0.002},{"s":54,"a":92,"u":-0.002},{"s":54,"a":94,"u":-0.004},{"s":54,"a":96,"u":-0.002},{"s":54,"a":98,"u":0.002},{"s":54,"a":100,"u":0.004},{"s":54,"a":102,"u":0.006},{"s":54,"a":104,"u":0.008},{"s":54,"a":106,"u":0.006},{"s":54,"a":108,"u":0.004},{"s":54,"a":110,"u":0.006},{"s":54,"a":112,"u":0.01},{"s":54,"a":114,"u":0.012},{"s":54,"a":116,"u":0.01},{"s":54,"a":118,"u":0.008},{"s":54,"a":120,"u":0.012},{"s":54,"a":122,"u":0.02},{"s":54,"a":124,"u":0.03},{"s":54,"a":126,"u":0.04},{"s":54,"a":128,"u":0.055},{"s":54,"a":130,"u":0.063},{"s":54,"a":132,"u":0.06},{"s":54,"a":134,"u":0.058},{"s":54,"a":136,"u":0.05},{"s":54,"a":138,"u":0.04},{"s":54,"a":140,"u":0.03},{"s":54,"a":142,"u":0.025},{"s":54,"a":144,"u":0.02},{"s":54,"a":146,"u":0.012},{"s":54,"a":148,"u":0.01},{"s":54,"a":150,"u":0.015},{"s":54,"a":152,"u":0.04},{"s":54,"a":153,"u":0.07},{"s":54,"a":154,"u":0.094},{"s":54,"a":155,"u":0.085},{"s":54,"a":156,"u":0.07},{"s":54,"a":157,"u":0.06},{"s":54,"a":158,"u":0.055},{"s":54,"a":159,"u":0.07},{"s":54,"a":160,"u":0.09},{"s":54,"a":162,"u":0.1},{"s":54,"a":164,"u":0.11},{"s":54,"a":166,"u":0.1},{"s":54,"a":168,"u":0.098},{"s":54,"a":170,"u":0.09},{"s":54,"a":172,"u":0.085},{"s":54,"a":174,"u":0.08},{"s":54,"a":175,"u":0.06},{"s":54,"a":176,"u":0.1},{"s":54,"a":177,"u":0.15},{"s":54,"a":177.7,"u":0.192}
    ],
    "labels": [
      {"t":"50 Гц","a":8.1,"u":0.054,"sa":8.0,"su":0.042,"ta":8.0,"tu":0.0015},
      {"t":"46 Гц","a":63.4,"u":0.073,"sa":63.3,"su":0.062,"ta":63.3,"tu":0.02},
      {"t":"45 Гц","a":80.4,"u":0.092,"sa":80.3,"su":0.08,"ta":80.3,"tu":0.0395},
      {"t":"48 Гц","a":93.4,"u":0.054,"sa":93.9,"su":0.0425,"ta":93.9,"tu":0.012},
      {"t":"47 Гц","a":106.3,"u":0.088,"sa":106.5,"su":0.076,"ta":106.5,"tu":0.0355},
      {"t":"54 Гц","a":127.2,"u":0.089,"sa":127.7,"su":0.078,"ta":128.0,"tu":0.0555},
      {"t":"52 Гц","a":135.8,"u":0.117,"sa":135.9,"su":0.106,"ta":135.9,"tu":0.066},
      {"t":"55 Гц","a":86.3,"u":-0.052,"sa":86.1,"su":-0.04,"ta":86.1,"tu":-0.024},
      {"t":"53 Гц","a":110.7,"u":-0.0605,"sa":111.1,"su":-0.049,"ta":115.5,"tu":-0.0296},
      {"t":"51 Гц","a":128.9,"u":-0.044,"sa":130.2,"su":-0.033,"ta":124.9,"tu":-0.0184},
      {"t":"49 Гц","a":133.3,"u":-0.081,"sa":140.3,"su":-0.081,"ta":144.4,"tu":-0.0825}
    ]
  },
  "layer": [
    {
      "data": {"name": "curves"},
      "transform": [{"filter": "datum.s != 45 && datum.s != 55"}],
      "mark": {"type": "line", "color": "#1a1a1a", "strokeWidth": 0.9},
      "encoding": {
        "x": {"field": "a", "type": "quantitative",
          "scale": {"domain": [0, 180], "nice": false, "zero": false},
          "axis": {"orient": "bottom", "tickCount": 36, "grid": true, "gridColor": "#d0d0d0", "gridWidth": 1,
            "domain": false, "ticks": false, "labelPadding": 4, "labelFont": "Liberation Serif", "labelFontSize": 10.5,
            "labelColor": "#111", "labelFlush": false, "labelOverlap": false,
            "title": "α, °", "titleFont": "Liberation Serif", "titleFontSize": 22, "titleFontWeight": "normal",
            "titleColor": "#111", "titleX": 787, "titleY": -125, "titleAlign": "left", "titleBaseline": "middle", "titleAngle": 0}},
        "y": {"field": "u", "type": "quantitative",
          "scale": {"domain": [-0.1, 0.25], "nice": false, "zero": false},
          "axis": {"orient": "left", "tickCount": 35, "grid": true, "gridColor": "#d0d0d0", "gridWidth": 1,
            "domain": true, "domainColor": "#000", "domainWidth": 1.2, "ticks": true, "tickSize": 4, "tickColor": "#000",
            "labelPadding": 4, "labelFont": "Liberation Serif", "labelFontSize": 10, "labelColor": "#111",
            "labelExpr": "replace(toString(round(datum.value*100)/100), '.', ',')",
            "labelOverlap": false, "labelFlush": false,
            "title": "δ", "titleFont": "Liberation Serif", "titleFontSize": 25, "titleFontWeight": "normal", "titleColor": "#000",
            "titleAngle": 0, "titleX": -30, "titleY": -12, "titleAlign": "left", "titleBaseline": "alphabetic"}},
        "detail": {"field": "s", "type": "nominal"}
      }
    },
    {
      "data": {"name": "curves"},
      "transform": [{"filter": "datum.s == 45"}],
      "mark": {"type": "line", "color": "#111", "strokeWidth": 2.6, "strokeJoin": "round"},
      "encoding": {
        "x": {"field": "a", "type": "quantitative",
          "scale": {"domain": [0, 180], "nice": false, "zero": false},
          "axis": {"orient": "top", "grid": false, "domain": false, "ticks": false, "labels": false,
            "title": "U", "titleFont": "Liberation Serif", "titleFontSize": 25, "titleFontStyle": "italic", "titleFontWeight": "normal",
            "titleColor": "#000", "titleX": -17, "titleY": -12, "titleAlign": "left", "titleBaseline": "alphabetic", "titleAngle": 0}},
        "y": {"field": "u", "type": "quantitative",
          "scale": {"domain": [-0.1, 0.25], "nice": false, "zero": false},
          "axis": {"orient": "right", "grid": false, "domain": false, "ticks": false, "labels": false,
            "title": "d", "titleFont": "Liberation Serif", "titleFontSize": 16, "titleFontStyle": "italic", "titleFontWeight": "normal",
            "titleColor": "#000", "titleX": -782, "titleY": -9, "titleAlign": "left", "titleBaseline": "alphabetic", "titleAngle": 0}}
      }
    },
    {
      "data": {"name": "curves"},
      "transform": [{"filter": "datum.s == 55"}],
      "mark": {"type": "line", "color": "#111", "strokeWidth": 3, "strokeDash": [7, 4]},
      "encoding": {
        "x": {"field": "a", "type": "quantitative",
          "scale": {"domain": [0, 180], "nice": false, "zero": false},
          "axis": {"orient": "bottom", "offset": -125, "grid": false, "domain": true, "domainColor": "#000", "domainWidth": 1.2,
            "ticks": true, "tickCount": 180, "tickSize": 2, "tickColor": "#000", "labels": false, "title": null}},
        "y": {"field": "u", "type": "quantitative",
          "scale": {"domain": [-0.1, 0.25], "nice": false, "zero": false},
          "axis": {"orient": "left", "grid": false, "domain": false, "ticks": true, "tickCount": 175, "tickSize": 2,
            "tickColor": "#000", "labels": false,
            "title": ", о.е.", "titleFont": "Liberation Serif", "titleFontSize": 24, "titleFontWeight": "normal", "titleColor": "#000",
            "titleAngle": 0, "titleX": 11, "titleY": -12, "titleAlign": "left", "titleBaseline": "alphabetic"}}
      }
    },
    {
      "data": {"name": "labels"},
      "mark": {"type": "rule", "color": "#333", "strokeWidth": 0.9},
      "encoding": {
        "x": {"field": "sa", "type": "quantitative", "scale": {"domain": [0, 180], "nice": false, "zero": false}, "axis": null},
        "y": {"field": "su", "type": "quantitative", "scale": {"domain": [-0.1, 0.25], "nice": false, "zero": false}, "axis": null},
        "x2": {"field": "ta"},
        "y2": {"field": "tu"}
      }
    },
    {
      "data": {"name": "labels"},
      "mark": {"type": "point", "shape": "circle", "filled": true, "color": "#333", "size": 8, "opacity": 1},
      "encoding": {
        "x": {"field": "ta", "type": "quantitative", "scale": {"domain": [0, 180], "nice": false, "zero": false}, "axis": null},
        "y": {"field": "tu", "type": "quantitative", "scale": {"domain": [-0.1, 0.25], "nice": false, "zero": false}, "axis": null}
      }
    },
    {
      "data": {"name": "labels"},
      "mark": {"type": "point", "shape": "M-1,-0.48H1V0.48H-1Z", "size": 3721, "filled": true, "fill": "white",
        "stroke": "#888", "strokeWidth": 1.2, "opacity": 1},
      "encoding": {
        "x": {"field": "a", "type": "quantitative", "scale": {"domain": [0, 180], "nice": false, "zero": false}, "axis": null},
        "y": {"field": "u", "type": "quantitative", "scale": {"domain": [-0.1, 0.25], "nice": false, "zero": false}, "axis": null}
      }
    },
    {
      "data": {"name": "labels"},
      "mark": {"type": "text", "font": "Liberation Serif", "fontSize": 20, "fontWeight": "bold", "color": "#000",
        "align": "center", "baseline": "middle", "dy": 1},
      "encoding": {
        "x": {"field": "a", "type": "quantitative", "scale": {"domain": [0, 180], "nice": false, "zero": false}, "axis": null},
        "y": {"field": "u", "type": "quantitative", "scale": {"domain": [-0.1, 0.25], "nice": false, "zero": false}, "axis": null},
        "text": {"field": "t"}
      }
    }
  ]
}
